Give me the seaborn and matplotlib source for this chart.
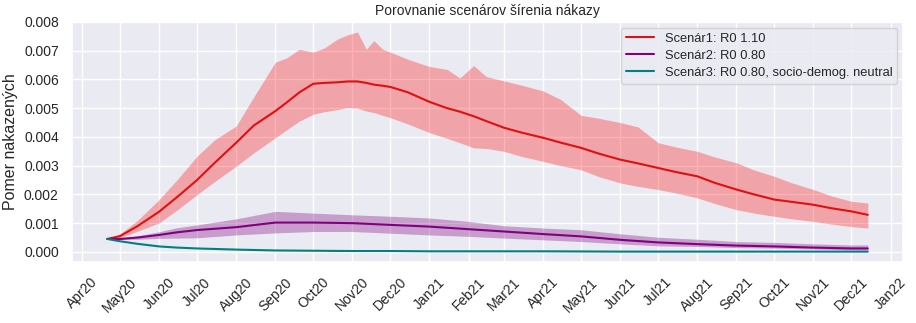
import pandas as pd
import numpy as np
import matplotlib
matplotlib.use("Agg")
import matplotlib.pyplot as plt
import matplotlib.dates as mdates
import seaborn as sns

# ---------------- data (values in units of 0.001) ----------------
red_dates = ["2020-04-21", "2020-05-01", "2020-05-15", "2020-06-01", "2020-06-15", "2020-07-01",
             "2020-07-15", "2020-08-01", "2020-08-15", "2020-09-01", "2020-09-10", "2020-09-20",
             "2020-10-01", "2020-10-10", "2020-10-20", "2020-10-28", "2020-11-05", "2020-11-12",
             "2020-11-18", "2020-11-25", "2020-12-01", "2020-12-15", "2021-01-01", "2021-01-15",
             "2021-01-25", "2021-02-05", "2021-02-15", "2021-03-01", "2021-03-15", "2021-04-01",
             "2021-04-15", "2021-05-01", "2021-05-15", "2021-06-01", "2021-06-15", "2021-07-01",
             "2021-07-15", "2021-08-01", "2021-08-15", "2021-09-01", "2021-09-15", "2021-10-01",
             "2021-10-15", "2021-11-01", "2021-11-15", "2021-12-01", "2021-12-14"]
red_mean = [0.45, 0.55, 0.90, 1.40, 1.90, 2.50, 3.10, 3.80, 4.40, 4.90, 5.20, 5.55,
            5.85, 5.88, 5.90, 5.93, 5.93, 5.88, 5.82, 5.78, 5.74, 5.55, 5.22, 5.00,
            4.88, 4.72, 4.55, 4.32, 4.15, 3.97, 3.80, 3.62, 3.42, 3.21, 3.08, 2.92,
            2.78, 2.63, 2.40, 2.17, 2.00, 1.82, 1.74, 1.64, 1.52, 1.41, 1.29]
red_upper = [0.45, 0.62, 1.10, 1.82, 2.50, 3.33, 3.90, 4.38, 5.40, 6.60, 6.75, 7.05,
             6.95, 7.10, 7.40, 7.55, 7.65, 7.05, 7.35, 7.05, 6.95, 6.70, 6.45, 6.35,
             6.05, 6.48, 6.10, 5.95, 5.80, 5.60, 5.30, 4.75, 4.65, 4.50, 4.35, 3.80,
             3.65, 3.50, 3.30, 3.10, 2.85, 2.63, 2.40, 2.17, 1.95, 1.76, 1.70]
red_lower = [0.45, 0.49, 0.72, 1.01, 1.45, 1.99, 2.45, 2.98, 3.45, 3.97, 4.25, 4.55,
             4.79, 4.88, 4.95, 5.02, 5.00, 4.90, 4.85, 4.75, 4.67, 4.45, 4.15, 3.95,
             3.80, 3.62, 3.60, 3.50, 3.32, 3.15, 3.00, 2.86, 2.62, 2.40, 2.28, 2.17,
             2.05, 1.88, 1.68, 1.47, 1.35, 1.24, 1.15, 1.06, 0.97, 0.88, 0.83]

low_dates = ["2020-04-21", "2020-05-01", "2020-05-15", "2020-06-01", "2020-06-15", "2020-07-01",
             "2020-08-01", "2020-09-01", "2020-10-01", "2020-11-01", "2020-12-01", "2021-01-01",
             "2021-02-01", "2021-03-01", "2021-04-01", "2021-05-01", "2021-06-01", "2021-07-01",
             "2021-08-01", "2021-09-01", "2021-10-01", "2021-11-01", "2021-12-01", "2021-12-14"]
purple_mean = [0.45, 0.45, 0.50, 0.59, 0.68, 0.76, 0.86, 1.02, 1.02, 1.00, 0.94, 0.88,
               0.79, 0.71, 0.62, 0.54, 0.42, 0.33, 0.27, 0.22, 0.19, 0.15, 0.12, 0.12]
purple_upper = [0.45, 0.47, 0.56, 0.70, 0.84, 0.94, 1.15, 1.41, 1.35, 1.29, 1.24, 1.18,
                1.06, 0.91, 0.83, 0.77, 0.63, 0.51, 0.44, 0.36, 0.33, 0.28, 0.24, 0.24]
purple_lower = [0.45, 0.43, 0.44, 0.47, 0.48, 0.49, 0.59, 0.66, 0.71, 0.71, 0.65, 0.59,
                0.54, 0.48, 0.42, 0.36, 0.28, 0.21, 0.19, 0.15, 0.13, 0.10, 0.07, 0.07]
teal_mean = [0.45, 0.37, 0.28, 0.19, 0.15, 0.12, 0.08, 0.05, 0.04, 0.03, 0.03, 0.02,
             0.02, 0.02, 0.02, 0.015, 0.01, 0.01, 0.01, 0.01, 0.01, 0.01, 0.01, 0.01]

labels = ["Scenár1: R0 1.10", "Scenár2: R0 0.80", "Scenár3: R0 0.80, socio-demog. neutral"]
title = "Porovnanie scenárov šírenia nákazy"
ylabel = "Pomer nakazených"

# ---------------- plot ----------------
sns.set_theme(style="darkgrid")
plt.rcParams["font.family"] = ["Liberation Sans", "DejaVu Sans"]

rd = pd.to_datetime(red_dates)
ld = pd.to_datetime(low_dates)
s = 0.001

fig = plt.figure(figsize=(9.16, 3.23), dpi=100)
ax = fig.add_axes([0.0786, 0.189, 0.9074, 0.743])

ax.fill_between(rd, np.array(red_lower) * s, np.array(red_upper) * s, color="red", alpha=0.3, linewidth=0)
ax.fill_between(ld, np.array(purple_lower) * s, np.array(purple_upper) * s, color="purple", alpha=0.33, linewidth=0)

sns.lineplot(x=rd, y=np.array(red_mean) * s, color="#e01010", label=labels[0], ax=ax, linewidth=1.5)
sns.lineplot(x=ld, y=np.array(purple_mean) * s, color="purple", label=labels[1], ax=ax, linewidth=1.5)
sns.lineplot(x=ld, y=np.array(teal_mean) * s, color="teal", label=labels[2], ax=ax, linewidth=1.5)

ax.set_ylim(-0.00035, 0.008)
ax.set_yticks(np.arange(0, 0.0081, 0.001))
ax.yaxis.set_major_formatter(matplotlib.ticker.FormatStrFormatter("%.3f"))
ax.xaxis.set_major_locator(mdates.MonthLocator())
ax.xaxis.set_major_formatter(mdates.DateFormatter("%b%y"))
ax.set_xlim(pd.Timestamp("2020-03-24"), pd.Timestamp("2022-01-11"))
plt.setp(ax.get_xticklabels(), rotation=45, fontsize=10)
plt.setp(ax.get_yticklabels(), fontsize=10)
ax.set_xlabel("")
ax.set_ylabel(ylabel, fontsize=11.5)
ax.set_title(title, fontsize=10, pad=5)
ax.legend(loc="upper right", fontsize=9.3, labelspacing=0.38, handlelength=2.2,
          borderaxespad=0.45)

fig.savefig("out.png", dpi=100)
